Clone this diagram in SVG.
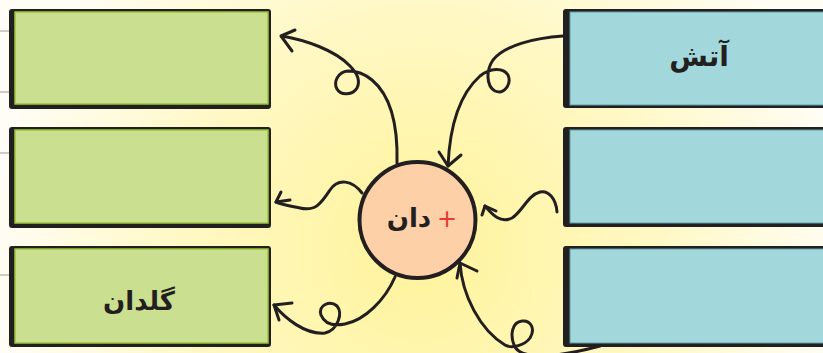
<svg xmlns="http://www.w3.org/2000/svg" width="823" height="353" viewBox="0 0 823 353">
<defs>
<radialGradient id="bg" cx="420" cy="250" r="430" gradientUnits="userSpaceOnUse">
<stop offset="0" stop-color="#fff39a"/>
<stop offset="0.55" stop-color="#fff8c4"/>
<stop offset="1" stop-color="#fffdf6"/>
</radialGradient>
<style>
.box-shadow{fill:#221f20}
.g{fill:#cadf8f;stroke:#9dc63a;stroke-width:1.5}
.b{fill:#a2d8db;stroke:#5f9ea3;stroke-width:1}
.lbl{font-family:"DejaVu Sans",sans-serif;font-weight:bold;fill:#231f20;text-anchor:middle}
.c{fill:none;stroke:#231f20;stroke-width:3;stroke-linecap:round;stroke-linejoin:round}
.edge{stroke:#9a9a9a;stroke-width:1}
</style>
</defs>
<rect width="823" height="353" fill="url(#bg)"/>
<g id="edge-lines">
<line class="edge" x1="0" y1="31" x2="9" y2="31"/>
<line class="edge" x1="0" y1="92" x2="9" y2="92"/>
<line class="edge" x1="0" y1="153" x2="9" y2="153"/>
<line class="edge" x1="0" y1="275" x2="9" y2="275"/>
</g>
<g id="left1">
<rect class="box-shadow" x="9" y="9" width="262" height="100" rx="3"/>
<rect class="g" x="15" y="12" width="253" height="92"/>
</g>
<g id="left2">
<rect class="box-shadow" x="9" y="127" width="262" height="101" rx="3"/>
<rect class="g" x="15" y="130" width="253" height="93"/>
</g>
<g id="left3">
<rect class="box-shadow" x="9" y="246" width="262" height="101" rx="3"/>
<rect class="g" x="15" y="249" width="253" height="94"/>
<text class="lbl" x="139" y="310" font-size="26">گلدان</text>
</g>
<g id="right1">
<rect class="box-shadow" x="563" y="9" width="270" height="99" rx="3"/>
<rect class="b" x="570" y="12" width="260" height="93"/>
<text class="lbl" x="699" y="66" font-size="28">آتش</text>
</g>
<g id="right2">
<rect class="box-shadow" x="563" y="127" width="270" height="100" rx="3"/>
<rect class="b" x="570" y="130" width="260" height="93"/>
</g>
<g id="right3">
<rect class="box-shadow" x="563" y="246" width="270" height="101" rx="3"/>
<rect class="b" x="570" y="249" width="260" height="94"/>
</g>
<g id="center">
<circle cx="417.5" cy="220" r="58" fill="#fdd0a8" stroke="#231f20" stroke-width="4"/>
<text class="lbl" x="409" y="227" font-size="26">دان</text>
<text x="447" y="227" font-family="DejaVu Sans,sans-serif" font-size="24" fill="#e53935" text-anchor="middle">+</text>
</g>
<g id="connectors">
<path class="c" d="M397,163 C398,125 390,95 372,80 C365,74 358,71 348,71 C338,72 333,82 337,89 C341,96 353,95 357,88 C361,80 356,72 350,66 C335,50 305,40 282,36"/>
<path class="c" d="M281,36 L295,30 M281,36 L292,51"/>
<path class="c" d="M362,193 C352,180 338,178 330,190 C322,202 316,212 300,208 C290,206 283,205 276,202"/>
<path class="c" d="M276,202 L281,192 M276,202 L290,200"/>
<path class="c" d="M395,277 C385,300 365,320 345,324 C335,326 325,325 321,315 C318,305 330,300 337,306 C343,313 338,330 325,333 C305,335 285,318 274,305"/>
<path class="c" d="M274,305 L292,303 M274,305 L279,320"/>
<path class="c" d="M563,36 C535,38 505,45 493,60 C486,70 486,86 495,91 C504,95 512,84 508,75 C503,67 490,68 480,76 C462,92 450,120 448,166"/>
<path class="c" d="M448,166 L439,152 M448,166 L461,155"/>
<path class="c" d="M557,212 C556,198 548,190 540,192 C528,195 522,212 512,218 C500,224 492,214 485,206"/>
<path class="c" d="M485,206 L482,215 M485,206 L496,211"/>
<path class="c" d="M460,263 C462,295 480,330 505,345 C512,349 525,345 530,338 C536,328 530,320 522,321 C512,322 510,335 514,345 C518,356 540,362 600,346"/>
<path class="c" d="M460,263 L457,278 M460,263 L477,271"/>
</g>
</svg>
